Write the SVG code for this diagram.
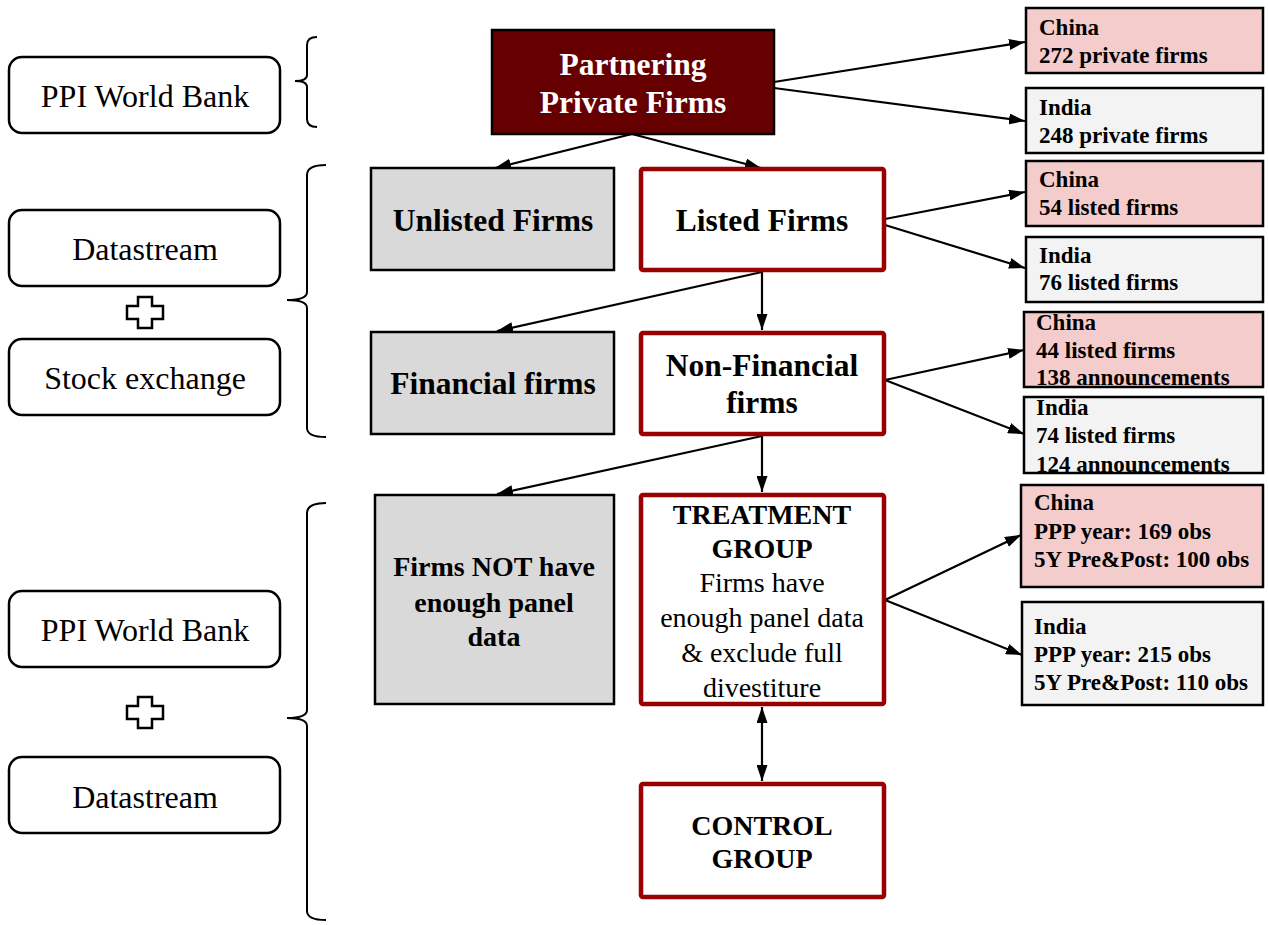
<svg xmlns="http://www.w3.org/2000/svg" width="1268" height="925" viewBox="0 0 1268 925">
<style>
.src{fill:#fff;stroke:#000;stroke-width:2.5}
.srct{font-family:"Liberation Serif",serif;font-size:32px;fill:#000;text-anchor:middle}
.brace{fill:none;stroke:#000;stroke-width:2}
.plus{fill:#fff;stroke:#000;stroke-width:2.5}
.gray{fill:#d9d9d9;stroke:#000;stroke-width:2.5}
.red{fill:#fff;stroke:#990000;stroke-width:4.5}
.big{font-family:"Liberation Serif",serif;font-size:31.5px;font-weight:bold;fill:#000;text-anchor:middle}
.mid{font-family:"Liberation Serif",serif;font-size:28px;font-weight:bold;fill:#000;text-anchor:middle}
.reg{font-family:"Liberation Serif",serif;font-size:28px;fill:#000;text-anchor:middle}
.cn{fill:#f4cccc;stroke:#000;stroke-width:2.5}
.in{fill:#f3f3f3;stroke:#000;stroke-width:2.5}
.rt{font-family:"Liberation Serif",serif;font-size:23px;font-weight:bold;fill:#000}
.edge{fill:none;stroke:#000;stroke-width:2.2;marker-end:url(#ah)}
</style>
<defs>
<marker id="ah" viewBox="0 0 16 11" refX="16" refY="5.5" markerWidth="16" markerHeight="11" markerUnits="userSpaceOnUse" orient="auto-start-reverse">
<path d="M0,0 L16,5.5 L0,11 z" fill="#000"/>
</marker>
</defs>
<rect width="1268" height="925" fill="#fff"/>

<g id="sources">
<g id="src-ppi1"><rect class="src" x="9" y="57" width="271" height="76" rx="13"/><text class="srct" x="145" y="107">PPI World Bank</text></g>
<g id="src-ds1"><rect class="src" x="9" y="210" width="271" height="76" rx="13"/><text class="srct" x="145" y="260">Datastream</text></g>
<polygon class="plus" points="138,297 152,297 152,306 163,306 163,319 152,319 152,328 138,328 138,319 127,319 127,306 138,306"/>
<g id="src-se"><rect class="src" x="9" y="339" width="271" height="76" rx="13"/><text class="srct" x="145" y="389">Stock exchange</text></g>
<g id="src-ppi2"><rect class="src" x="9" y="591" width="271" height="76" rx="13"/><text class="srct" x="145" y="641">PPI World Bank</text></g>
<polygon class="plus" points="138,697 152,697 152,706 163,706 163,719 152,719 152,728 138,728 138,719 127,719 127,706 138,706"/>
<g id="src-ds2"><rect class="src" x="9" y="757" width="271" height="76" rx="13"/><text class="srct" x="145" y="808">Datastream</text></g>
<path class="brace" d="M317,37 Q307,37 307,45 L307,75 Q307,81 295,81 Q307,81 307,87 L307,119 Q307,127 317,127"/>
<path class="brace" d="M326,165 Q307,165 307,175 L307,292 Q307,300 287,300 Q307,300 307,308 L307,428 Q307,437 326,437"/>
<path class="brace" d="M326,503 Q307,503 307,513 L307,710 Q307,718 287,718 Q307,718 307,726 L307,911 Q307,920 326,920"/>
</g>

<g id="connectors">
<line class="edge" x1="774" y1="82" x2="1025" y2="42"/>
<line class="edge" x1="774" y1="88" x2="1025" y2="121"/>
<line class="edge" x1="632" y1="134" x2="495" y2="168"/>
<line class="edge" x1="632" y1="134" x2="761" y2="168"/>
<line class="edge" x1="885" y1="219" x2="1025" y2="192"/>
<line class="edge" x1="885" y1="225" x2="1025" y2="268"/>
<line class="edge" x1="762" y1="272" x2="497" y2="331"/>
<line class="edge" x1="762" y1="272" x2="762" y2="330"/>
<line class="edge" x1="885" y1="380" x2="1024" y2="350"/>
<line class="edge" x1="885" y1="380" x2="1024" y2="434"/>
<line class="edge" x1="762" y1="436" x2="497" y2="494"/>
<line class="edge" x1="762" y1="436" x2="762" y2="492"/>
<line class="edge" x1="885" y1="600" x2="1021" y2="535"/>
<line class="edge" x1="885" y1="600" x2="1022" y2="655"/>
<line class="edge" x1="762" y1="707" x2="762" y2="781" style="marker-start:url(#ah)"/>
</g>

<g id="partnering"><rect x="492" y="30" width="282" height="104" fill="#660000" stroke="#000" stroke-width="2.5"/>
<text class="big" x="633" y="75" style="fill:#fff">Partnering</text><text class="big" x="633" y="113" style="fill:#fff">Private Firms</text></g>
<g id="unlisted"><rect class="gray" x="371" y="168" width="243" height="102"/><text class="big" x="493" y="231">Unlisted Firms</text></g>
<g id="listed"><rect class="red" x="641" y="169" width="243" height="101" rx="2"/><text class="big" x="762" y="231">Listed Firms</text></g>
<g id="financial"><rect class="gray" x="371" y="332" width="243" height="102"/><text class="big" x="493" y="394">Financial firms</text></g>
<g id="nonfinancial"><rect class="red" x="641" y="333" width="243" height="101" rx="2"/><text class="big" x="762" y="376">Non-Financial</text><text class="big" x="762" y="413">firms</text></g>
<g id="notenough"><rect class="gray" x="375" y="495" width="239" height="209"/><text class="mid" x="494" y="576">Firms NOT have</text><text class="mid" x="494" y="612">enough panel</text><text class="mid" x="494" y="646">data</text></g>
<g id="treatment"><rect class="red" x="641" y="495" width="243" height="209" rx="2"/>
<text class="mid" x="762" y="524">TREATMENT</text><text class="mid" x="762" y="558">GROUP</text>
<text class="reg" x="762" y="592">Firms have</text><text class="reg" x="762" y="627">enough panel data</text><text class="reg" x="762" y="662">&amp; exclude full</text><text class="reg" x="762" y="697">divestiture</text></g>
<g id="control"><rect class="red" x="641" y="784" width="243" height="113" rx="2"/><text class="mid" x="762" y="835">CONTROL</text><text class="mid" x="762" y="868">GROUP</text></g>

<g id="china-private"><rect class="cn" x="1026" y="8" width="237" height="65"/><text class="rt" x="1039" y="35">China</text><text class="rt" x="1039" y="63">272 private firms</text></g>
<g id="india-private"><rect class="in" x="1026" y="88" width="237" height="65"/><text class="rt" x="1039" y="115">India</text><text class="rt" x="1039" y="143">248 private firms</text></g>
<g id="china-listed"><rect class="cn" x="1026" y="161" width="237" height="65"/><text class="rt" x="1039" y="187">China</text><text class="rt" x="1039" y="215">54 listed firms</text></g>
<g id="india-listed"><rect class="in" x="1026" y="237" width="237" height="65"/><text class="rt" x="1039" y="263">India</text><text class="rt" x="1039" y="290">76 listed firms</text></g>
<g id="china-nonfin"><rect class="cn" x="1024" y="312" width="239" height="75"/><text class="rt" x="1036" y="330">China</text><text class="rt" x="1036" y="358">44 listed firms</text><text class="rt" x="1036" y="385">138 announcements</text></g>
<g id="india-nonfin"><rect class="in" x="1024" y="397" width="239" height="76"/><text class="rt" x="1036" y="415">India</text><text class="rt" x="1036" y="443">74 listed firms</text><text class="rt" x="1036" y="472">124 announcements</text></g>
<g id="china-treat"><rect class="cn" x="1021" y="485" width="242" height="102"/><text class="rt" x="1034" y="510">China</text><text class="rt" x="1034" y="539">PPP year: 169 obs</text><text class="rt" x="1034" y="567">5Y Pre&amp;Post: 100 obs</text></g>
<g id="india-treat"><rect class="in" x="1022" y="602" width="241" height="103"/><text class="rt" x="1034" y="634">India</text><text class="rt" x="1034" y="662">PPP year: 215 obs</text><text class="rt" x="1034" y="690">5Y Pre&amp;Post: 110 obs</text></g>
</svg>
